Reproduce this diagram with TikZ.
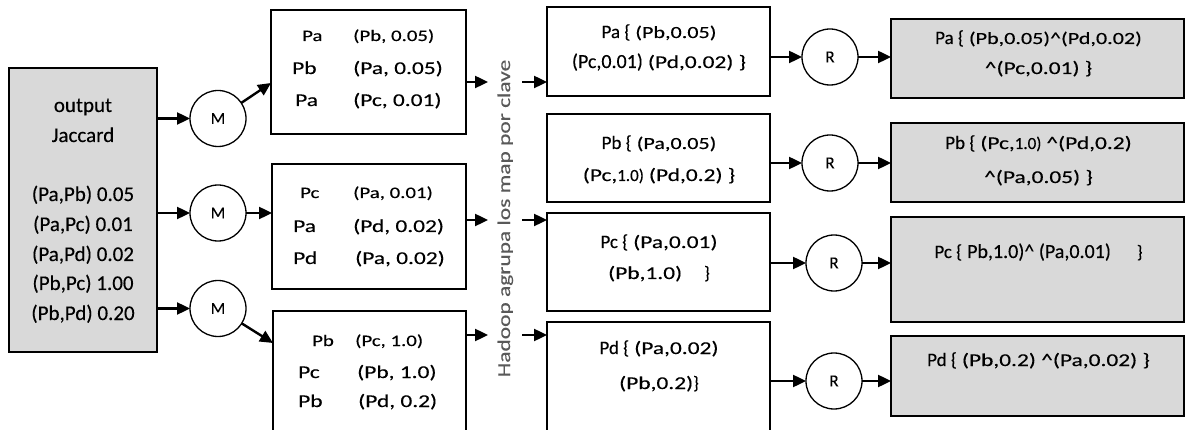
\documentclass[tikz,border=0pt]{standalone}
\usepackage{fontspec}
\usepackage{graphicx}
\setmainfont[FakeBold=0.2,AutoFakeBold=0.2]{Carlito}
\usetikzlibrary{arrows.meta,calc,fit}
\definecolor{boxgrey}{HTML}{D9D9D9}
\definecolor{notegrey}{HTML}{595959}
% text runs: plain, and widened horizontally
\newcommand\sn[2]{{\fontsize{#1}{#1}\selectfont #2}}
\newcommand\sw[2]{\scalebox{1.3}[1]{\fontsize{#1}{#1}\selectfont #2}}
\tikzset{
  box/.style={draw, line width=1.7pt, inner sep=0pt, outer sep=0pt},
  greybox/.style={box, fill=boxgrey},
  circ/.style={circle, draw, line width=1.3pt, minimum size=56pt, inner sep=0pt, outer sep=0pt, font=\fontsize{17}{17}\selectfont},
  arr/.style={line width=2.4pt, -{Triangle[length=13pt,width=12pt]}},
  lbl/.style={inner sep=0pt, anchor=base, font=\fontsize{18}{18}\selectfont},
  lblw/.style={inner sep=0pt, anchor=base west, font=\fontsize{18}{18}\selectfont},
}
\begin{document}
\begin{tikzpicture}[x=1pt, y=-1pt]
\useasboundingbox (0,0) rectangle (1186,430);
\clip (0,0) rectangle (1186,430);

% ---- input box ----
\node[greybox, fit={(9,68) (157,352)}] (L) {};
\node[lbl] (lt1) at (83,112) {\sn{21}{output}};
\node[lbl] (lt2) at (83,142) {\sn{21}{Jaccard}};
\node[lbl] (lt3) at (83,201) {\sn{21}{(Pa,Pb) 0.05}};
\node[lbl] (lt4) at (83,231) {\sn{21}{(Pa,Pc) 0.01}};
\node[lbl] (lt5) at (83,261) {\sn{21}{(Pa,Pd) 0.02}};
\node[lbl] (lt6) at (83,290) {\sn{21}{(Pb,Pc) 1.00}};
\node[lbl] (lt7) at (83,320) {\sn{21}{(Pb,Pd) 0.20}};

% ---- map tasks ----
\node[circ] (M1) at (218,118.5) {M};
\node[circ] (M2) at (218,213) {M};
\node[circ] (M3) at (218,308.5) {M};

\node[box, fit={(271,10) (466,134)}] (B1) {};
\node[box, fit={(272,164) (466,289)}] (B2) {};
\node[box, fit={(273,311) (466,445)}] (B3) {};

\node[lblw] (b1k1) at (302,41) {\sw{16}{Pa}};
\node[lblw] (b1v1) at (353,41) {\sw{16}{(Pb, 0.05)}};
\node[lblw] (b1k2) at (292,74) {\sw{18}{Pb}};
\node[lblw] (b1v2) at (353,74) {\sw{18}{(Pa, 0.05)}};
\node[lblw] (b1k3) at (295,106) {\sw{18}{Pa}};
\node[lblw] (b1v3) at (353,106) {\sw{18}{(Pc, 0.01)}};

\node[lblw] (b2k1) at (300,198) {\sw{16}{Pc}};
\node[lblw] (b2v1) at (353,198) {\sw{16}{(Pa, 0.01)}};
\node[lblw] (b2k2) at (293,232) {\sw{18}{Pa}};
\node[lblw] (b2v2) at (353,232) {\sw{18}{(Pd, 0.02)}};
\node[lblw] (b2k3) at (293,264) {\sw{18}{Pd}};
\node[lblw] (b2v3) at (355,264) {\sw{18}{(Pa, 0.02)}};

\node[lblw] (b3k1) at (312,346) {\sw{16}{Pb}};
\node[lblw] (b3v1) at (355,346) {\sw{16}{(Pc, 1.0)}};
\node[lblw] (b3k2) at (298,378) {\sw{18}{Pc}};
\node[lblw] (b3v2) at (357,378) {\sw{18}{(Pb, 1.0)}};
\node[lblw] (b3k3) at (298,407) {\sw{18}{Pb}};
\node[lblw] (b3v3) at (358,407) {\sw{18}{(Pd, 0.2)}};

% ---- shuffle step ----
\node[lbl, rotate=90, text=notegrey] (shuffle) at (510,218.5) {\sw{18}{Hadoop agrupa los map por clave}};
\coordinate (sa1) at (488,82);  \coordinate (sb1) at (522,82);
\coordinate (sa2) at (488,220); \coordinate (sb2) at (522,220);
\coordinate (sa3) at (488,335); \coordinate (sb3) at (522,335);

% ---- grouped values ----
\node[box, fit={(547,7) (770,96)}] (RA) {};
\node[box, fit={(547,114) (770,202)}] (RB) {};
\node[box, fit={(547,213) (770,311)}] (RC) {};
\node[box, fit={(547,322) (770,445)}] (RD) {};

\node[lbl] (ra1) at (659,38) {\sn{19}{Pa \{}\hspace{5pt}\sw{17}{(Pb,0.05)}};
\node[lbl] (ra2) at (659,68) {\sn{20}{(Pc,0.01)}\hspace{5pt}\sw{18}{(Pd,0.02) \}}};
\node[lbl] (rb1) at (659,149) {\sn{19}{Pb \{}\hspace{5pt}\sw{17}{(Pa,0.05)}};
\node[lbl] (rb2) at (659,181) {\sw{18}{(Pc,}\sn{17}{1.0)}\hspace{5pt}\sw{18}{(Pd,0.2) \}}};
\node[lbl] (rc1) at (659,248) {\sn{19}{Pc \{}\hspace{5pt}\sw{18}{(Pa,0.01)}};
\node[lbl] (rc2) at (659,279) {\sw{18}{(Pb,1.0)}\hspace{22pt}\sn{18}{\}}};
\node[lbl] (rd1) at (659,354) {\sn{19}{Pd \{}\hspace{5pt}\sw{18}{(Pa,0.02)}};
\node[lbl] (rd2) at (659,389) {\sw{18}{(Pb,0.2)}\sn{18}{\}}};

% ---- reduce tasks ----
\node[circ] (R1) at (830,57) {R};
\node[circ] (R2) at (830,163) {R};
\node[circ] (R3) at (834,263) {R};
\node[circ] (R4) at (834,381) {R};

% ---- results ----
\node[greybox, fit={(891,19) (1184,98)}] (O1) {};
\node[greybox, fit={(891,123) (1184,202)}] (O2) {};
\node[greybox, fit={(891,217) (1184,322)}] (O3) {};
\node[greybox, fit={(891,336) (1184,416)}] (O4) {};

\node[lbl] (o1a) at (1038.5,44) {\sn{19}{Pa \{}\hspace{5pt}\sw{17}{(Pb,0.05)\textasciicircum(Pd,0.02)}};
\node[lbl] (o1b) at (1038.5,74) {\sw{18}{\textasciicircum(Pc,0.01) \}}};
\node[lbl] (o2a) at (1038.5,149) {\sn{19}{Pb \{}\hspace{5pt}\sw{18}{(Pc,}\sn{17}{1.0)}\hspace{5pt}\sw{18}{\textasciicircum(Pd,0.2)}};
\node[lbl] (o2b) at (1038.5,183) {\sw{18}{\textasciicircum(Pa,0.05) \}}};
\node[lbl] (o3a) at (1038.5,258) {\sn{19}{Pc \{}\hspace{5pt}\sn{20}{Pb,1.0)\textasciicircum{} (Pa,0.01)}\hspace{26pt}\sn{18}{\}}};
\node[lbl] (o4a) at (1038.5,366) {\sn{19}{Pd \{}\hspace{5pt}\sw{18}{(Pb,0.2) \textasciicircum(Pa,0.02) \}}};

% ---- connectors ----
\draw[arr] (L.east |- M1) -- (M1);
\draw[arr] (L.east |- M2) -- (M2);
\draw[arr] (L.east |- M3) -- (M3);

\draw[arr] (M1) -- ($(B1.west)+(0,11)$);
\draw[arr] (M2) -- (M2 -| B2.west);
\draw[arr] (M3) -- ($(B3.north west)+(0,32)$);

\draw[arr] (B1.east |- sa1) -- (sa1);
\draw[arr] (B2.east |- sa2) -- (sa2);
\draw[arr] (B3.east |- sa3) -- (sa3);
\draw[arr] (sb1) -- (sb1 -| RA.west);
\draw[arr] (sb2) -- (sb2 -| RC.west);
\draw[arr] (sb3) -- (sb3 -| RD.west);

\draw[arr] (RA.east |- R1) -- (R1);
\draw[arr] (RB.east |- R2) -- (R2);
\draw[arr] (RC.east |- R3) -- (R3);
\draw[arr] (RD.east |- R4) -- (R4);

\draw[arr] (R1) -- (R1 -| O1.west);
\draw[arr] (R2) -- (R2 -| O2.west);
\draw[arr] (R3) -- (R3 -| O3.west);
\draw[arr] (R4) -- (R4 -| O4.west);
\end{tikzpicture}
\end{document}
